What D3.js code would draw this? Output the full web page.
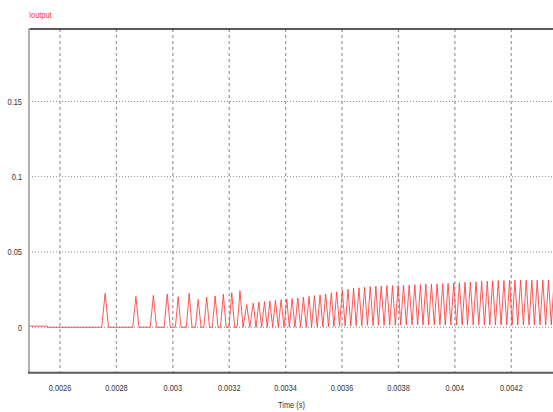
<!DOCTYPE html>
<html>
<head>
<meta charset="utf-8">
<script src="https://cdn.jsdelivr.net/npm/d3@7/dist/d3.min.js"></script>
<style>
  html, body { margin: 0; padding: 0; background: #fff; }
  svg { display: block; }
  text { font-family: "Liberation Sans Narrow", "Liberation Sans", Arial, sans-serif; }
</style>
</head>
<body>
<svg id="chart"></svg>
<script>
// waveform vertices: time in microseconds, current in A
const timeUs = [
  2490, 2554, 2555,
  2748, 2760, 2772,
  2858, 2869, 2880,
  2920, 2931, 2942,
  2969, 2980, 2991,
  3009, 3019, 3029,
  3048, 3058, 3068,
  3080, 3090, 3100,
  3110, 3120, 3130,
  3140, 3150, 3160,
  3169, 3179, 3189,
  3199, 3209, 3219,
  3228, 3238, 3249,
  3262, 3273, 3285, 3295, 3305, 3315, 3325, 3335, 3344, 3354,
  3364, 3374, 3384, 3394, 3404, 3413, 3423, 3433, 3443, 3453,
  3463, 3473, 3483, 3492, 3502, 3512, 3522, 3532, 3542, 3552,
  3562, 3571, 3581, 3591, 3601, 3611, 3621, 3631, 3641, 3650,
  3660, 3670, 3680, 3690, 3700, 3710, 3720, 3729, 3739, 3749,
  3759, 3769, 3779, 3789, 3799, 3808, 3818, 3828, 3838, 3848,
  3858, 3868, 3878, 3887, 3897, 3907, 3917, 3927, 3937, 3947,
  3957, 3966, 3976, 3986, 3996, 4006, 4016, 4026, 4036, 4045,
  4055, 4065, 4075, 4085, 4095, 4105, 4115, 4124, 4134, 4144,
  4154, 4164, 4174, 4184, 4194, 4203, 4213, 4223, 4233, 4243,
  4253, 4263, 4273, 4282, 4292, 4302, 4312, 4322, 4332, 4342, 4352
];
const current = [
  0.0007, 0.0007, 0,
  0, 0.0226, 0,
  0, 0.0205, 0,
  0, 0.0212, 0,
  0, 0.022, 0,
  0, 0.0203, 0,
  0, 0.0226, 0,
  0, 0.0185, 0,
  0, 0.02, 0,
  0, 0.0208, 0,
  0, 0.022, 0,
  0, 0.023, 0,
  0, 0.0243, 0,
  0.015, 0, 0.016, 0, 0.0166, 0, 0.017, 0, 0.0175, 0,
  0.018, 0, 0.0183, 0, 0.0187, 0, 0.019, 0, 0.0195, 0,
  0.02, 0, 0.0205, 0, 0.021, 0.0003, 0.0215, 0.0003, 0.022, 0.0005,
  0.0228, 0.0005, 0.0235, 0.0006, 0.0245, 0.0008, 0.0252, 0.0008, 0.0258, 0.001,
  0.0262, 0.001, 0.0266, 0.0012, 0.027, 0.0012, 0.0272, 0.0013, 0.0274, 0.0013,
  0.0276, 0.0014, 0.0276, 0.0014, 0.0278, 0.0015, 0.0279, 0.0015, 0.028, 0.0015,
  0.0282, 0.0015, 0.0283, 0.0015, 0.0285, 0.0015, 0.0286, 0.0015, 0.0288, 0.0015,
  0.029, 0.0015, 0.0292, 0.0015, 0.0294, 0.0015, 0.0296, 0.0015, 0.0298, 0.0015,
  0.03, 0.0015, 0.0302, 0.0015, 0.0304, 0.0015, 0.0306, 0.0015, 0.0308, 0.0015,
  0.031, 0.0015, 0.031, 0.0015, 0.0312, 0.0015, 0.0312, 0.0015, 0.0312, 0.0015,
  0.0312, 0.0015, 0.0312, 0.0015, 0.0312, 0.0015, 0.0312, 0.0015, 0.0312, 0.0015, 0.0312
];

const xTicks = [0.0026, 0.0028, 0.003, 0.0032, 0.0034, 0.0036, 0.0038, 0.004, 0.0042];
const yTicks = [0, 0.05, 0.1, 0.15];
const xLabels = ["0.0026", "0.0028", "0.003", "0.0032", "0.0034", "0.0036", "0.0038", "0.004", "0.0042"];
const yLabels = ["0", "0.05", "0.1", "0.15"];

const width = 553, height = 412;
const plotL = 29, plotR = 553, plotT = 29, plotB = 372.7;

const svg = d3.select("#chart")
  .attr("width", width)
  .attr("height", height);

const x = d3.scaleLinear().domain([0.00249, 0.004348]).range([plotL, plotR]);
const y = d3.scaleLinear().domain([-0.0302, 0.1981]).range([plotB, plotT]);

// squeeze text horizontally to mimic the narrow font of the original
function narrow(sel, k) {
  sel.each(function () {
    const w = this.getComputedTextLength();
    d3.select(this)
      .attr("textLength", w * k)
      .attr("lengthAdjust", "spacingAndGlyphs");
  });
}

// vertical dashed grid
svg.append("g")
  .selectAll("line")
  .data(xTicks)
  .join("line")
  .attr("x1", d => x(d)).attr("x2", d => x(d))
  .attr("y1", plotT).attr("y2", plotB)
  .attr("stroke", "#a0a0a0")
  .attr("stroke-width", 1.3)
  .attr("stroke-dasharray", "3,3");

// horizontal dotted grid
svg.append("g")
  .selectAll("line")
  .data(yTicks)
  .join("line")
  .attr("x1", plotL).attr("x2", plotR)
  .attr("y1", d => y(d)).attr("y2", d => y(d))
  .attr("stroke", "#888")
  .attr("stroke-width", 1)
  .attr("stroke-dasharray", "1,2");

// waveform
svg.append("clipPath").attr("id", "clip")
  .append("rect")
  .attr("x", plotL).attr("y", plotT)
  .attr("width", plotR - plotL).attr("height", plotB - plotT);

const pts = timeUs.map((t, i) => [t * 1e-6, current[i]]);
svg.append("path")
  .datum(pts)
  .attr("clip-path", "url(#clip)")
  .attr("fill", "none")
  .attr("stroke", "#ff3a3a")
  .attr("stroke-opacity", 0.85)
  .attr("stroke-width", 1)
  .attr("d", d3.line().x(d => x(d[0])).y(d => y(d[1])));

// frame
svg.append("line")
  .attr("x1", plotL).attr("x2", plotR).attr("y1", plotT).attr("y2", plotT)
  .attr("stroke", "#222").attr("stroke-width", 1.5);
svg.append("line")
  .attr("x1", plotL).attr("x2", plotL).attr("y1", plotT - 0.7).attr("y2", plotB)
  .attr("stroke", "#b0b0b0").attr("stroke-width", 2);
svg.append("line")
  .attr("x1", plotL - 1).attr("x2", plotR).attr("y1", plotB).attr("y2", plotB)
  .attr("stroke", "#5a5a5a").attr("stroke-width", 2);

// tick labels
svg.append("g")
  .selectAll("text")
  .data(xTicks)
  .join("text")
  .attr("x", d => x(d))
  .attr("y", 390.5)
  .attr("text-anchor", "middle")
  .attr("font-size", 9)
  .attr("fill", "#333")
  .text((d, i) => xLabels[i])
  .call(narrow, 0.82);

svg.append("g")
  .selectAll("text")
  .data(yTicks)
  .join("text")
  .attr("x", 22)
  .attr("y", d => y(d) + 3.3)
  .attr("text-anchor", "end")
  .attr("font-size", 9)
  .attr("fill", "#333")
  .text((d, i) => yLabels[i])
  .call(narrow, 0.82);

svg.append("text")
  .attr("x", 291.5).attr("y", 407.5)
  .attr("text-anchor", "middle")
  .attr("font-size", 9)
  .attr("fill", "#333")
  .text("Time (s)")
  .call(narrow, 0.82);

svg.append("text")
  .attr("x", 29).attr("y", 17.5)
  .attr("font-size", 9)
  .attr("fill", "#ff3030")
  .text("Ioutput")
  .call(narrow, 0.82);
</script>
</body>
</html>
